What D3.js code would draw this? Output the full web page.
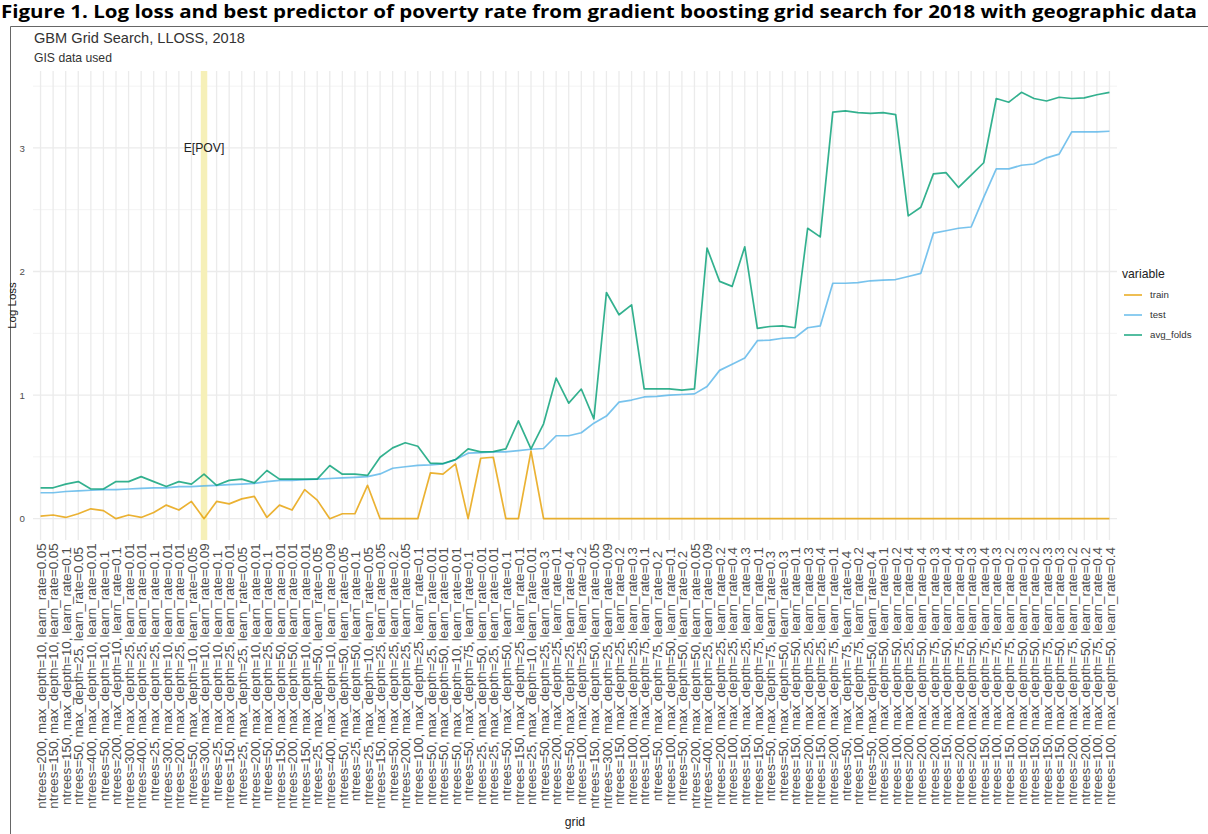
<!DOCTYPE html>
<html>
<head>
<meta charset="utf-8">
<script src="https://cdn.jsdelivr.net/npm/d3@7"></script>
<style>
	body { margin: 0; background: #fff; }
	svg { display: block; }
</style>
</head>
<body>
<div id="chart-area"></div>
<script>
// grid search runs, in plotted order
let grid = [
	"ntrees=200, max_depth=10, learn_rate=0.05", "ntrees=150, max_depth=10, learn_rate=0.05",
	"ntrees=150, max_depth=10, learn_rate=0.1", "ntrees=50, max_depth=25, learn_rate=0.05",
	"ntrees=400, max_depth=10, learn_rate=0.01", "ntrees=50, max_depth=10, learn_rate=0.1",
	"ntrees=200, max_depth=10, learn_rate=0.1", "ntrees=300, max_depth=25, learn_rate=0.01",
	"ntrees=400, max_depth=25, learn_rate=0.01", "ntrees=25, max_depth=25, learn_rate=0.1",
	"ntrees=300, max_depth=10, learn_rate=0.01", "ntrees=200, max_depth=25, learn_rate=0.01",
	"ntrees=50, max_depth=10, learn_rate=0.05", "ntrees=300, max_depth=10, learn_rate=0.09",
	"ntrees=25, max_depth=10, learn_rate=0.1", "ntrees=150, max_depth=25, learn_rate=0.01",
	"ntrees=25, max_depth=25, learn_rate=0.05", "ntrees=200, max_depth=10, learn_rate=0.01",
	"ntrees=50, max_depth=25, learn_rate=0.1", "ntrees=150, max_depth=50, learn_rate=0.01",
	"ntrees=200, max_depth=50, learn_rate=0.01", "ntrees=150, max_depth=10, learn_rate=0.01",
	"ntrees=25, max_depth=50, learn_rate=0.05", "ntrees=400, max_depth=10, learn_rate=0.09",
	"ntrees=50, max_depth=50, learn_rate=0.05", "ntrees=25, max_depth=50, learn_rate=0.1",
	"ntrees=25, max_depth=10, learn_rate=0.05", "ntrees=150, max_depth=25, learn_rate=0.05",
	"ntrees=50, max_depth=25, learn_rate=0.2", "ntrees=200, max_depth=25, learn_rate=0.05",
	"ntrees=100, max_depth=25, learn_rate=0.1", "ntrees=50, max_depth=25, learn_rate=0.01",
	"ntrees=50, max_depth=50, learn_rate=0.01", "ntrees=50, max_depth=10, learn_rate=0.01",
	"ntrees=50, max_depth=75, learn_rate=0.1", "ntrees=25, max_depth=50, learn_rate=0.01",
	"ntrees=25, max_depth=25, learn_rate=0.01", "ntrees=50, max_depth=50, learn_rate=0.1",
	"ntrees=150, max_depth=25, learn_rate=0.1", "ntrees=25, max_depth=10, learn_rate=0.01",
	"ntrees=50, max_depth=25, learn_rate=0.3", "ntrees=200, max_depth=25, learn_rate=0.1",
	"ntrees=50, max_depth=25, learn_rate=0.4", "ntrees=100, max_depth=25, learn_rate=0.2",
	"ntrees=150, max_depth=50, learn_rate=0.05", "ntrees=300, max_depth=25, learn_rate=0.09",
	"ntrees=150, max_depth=25, learn_rate=0.2", "ntrees=100, max_depth=25, learn_rate=0.3",
	"ntrees=100, max_depth=75, learn_rate=0.1", "ntrees=50, max_depth=75, learn_rate=0.2",
	"ntrees=100, max_depth=50, learn_rate=0.1", "ntrees=50, max_depth=50, learn_rate=0.2",
	"ntrees=200, max_depth=50, learn_rate=0.05", "ntrees=400, max_depth=25, learn_rate=0.09",
	"ntrees=200, max_depth=25, learn_rate=0.2", "ntrees=100, max_depth=25, learn_rate=0.4",
	"ntrees=150, max_depth=25, learn_rate=0.3", "ntrees=150, max_depth=75, learn_rate=0.1",
	"ntrees=50, max_depth=75, learn_rate=0.3", "ntrees=50, max_depth=50, learn_rate=0.3",
	"ntrees=150, max_depth=50, learn_rate=0.1", "ntrees=200, max_depth=25, learn_rate=0.3",
	"ntrees=150, max_depth=25, learn_rate=0.4", "ntrees=200, max_depth=75, learn_rate=0.1",
	"ntrees=50, max_depth=75, learn_rate=0.4", "ntrees=100, max_depth=75, learn_rate=0.2",
	"ntrees=50, max_depth=50, learn_rate=0.4", "ntrees=200, max_depth=50, learn_rate=0.1",
	"ntrees=100, max_depth=50, learn_rate=0.2", "ntrees=200, max_depth=25, learn_rate=0.4",
	"ntrees=200, max_depth=50, learn_rate=0.4", "ntrees=200, max_depth=75, learn_rate=0.3",
	"ntrees=150, max_depth=50, learn_rate=0.4", "ntrees=200, max_depth=75, learn_rate=0.4",
	"ntrees=200, max_depth=50, learn_rate=0.3", "ntrees=150, max_depth=75, learn_rate=0.4",
	"ntrees=100, max_depth=75, learn_rate=0.3", "ntrees=150, max_depth=75, learn_rate=0.2",
	"ntrees=100, max_depth=50, learn_rate=0.3", "ntrees=150, max_depth=50, learn_rate=0.2",
	"ntrees=150, max_depth=75, learn_rate=0.3", "ntrees=150, max_depth=50, learn_rate=0.3",
	"ntrees=200, max_depth=75, learn_rate=0.2", "ntrees=200, max_depth=50, learn_rate=0.2",
	"ntrees=100, max_depth=75, learn_rate=0.4", "ntrees=100, max_depth=50, learn_rate=0.4"
];

let train = [
	0.02, 0.03, 0.01, 0.04, 0.08, 0.065, 0.0, 0.03, 0.01, 0.05,
	0.11, 0.07, 0.14, 0.0, 0.14, 0.12, 0.16, 0.18, 0.01, 0.11,
	0.07, 0.235, 0.15, 0.0, 0.04, 0.04, 0.27, 0, 0, 0,
	0, 0.37, 0.36, 0.443, 0, 0.489, 0.497, 0, 0, 0.546,
	0, 0, 0, 0, 0, 0, 0, 0, 0, 0,
	0, 0, 0, 0, 0, 0, 0, 0, 0, 0,
	0, 0, 0, 0, 0, 0, 0, 0, 0, 0,
	0, 0, 0, 0, 0, 0, 0, 0, 0, 0,
	0, 0, 0, 0, 0, 0
];

let test = [
	0.21, 0.21, 0.22, 0.225, 0.23, 0.235, 0.235, 0.24, 0.245, 0.25,
	0.25, 0.26, 0.26, 0.265, 0.27, 0.275, 0.28, 0.285, 0.30, 0.31,
	0.31, 0.315, 0.32, 0.325, 0.33, 0.335, 0.34, 0.362, 0.408, 0.42,
	0.432, 0.435, 0.443, 0.478, 0.53, 0.535, 0.541, 0.541, 0.551, 0.562,
	0.568, 0.671, 0.671, 0.695, 0.773, 0.83, 0.943, 0.96, 0.985, 0.99,
	1.0, 1.005, 1.01, 1.07, 1.20, 1.25, 1.30, 1.44, 1.445, 1.46,
	1.465, 1.545, 1.56, 1.905, 1.905, 1.91, 1.925, 1.93, 1.935, 1.96,
	1.985, 2.31, 2.33, 2.35, 2.36, 2.60, 2.83, 2.83, 2.86, 2.87,
	2.92, 2.95, 3.13, 3.13, 3.13, 3.135
];

let avgFolds = [
	0.25, 0.25, 0.28, 0.30, 0.24, 0.24, 0.30, 0.30, 0.34, 0.30,
	0.26, 0.30, 0.28, 0.36, 0.27, 0.31, 0.32, 0.29, 0.39, 0.32,
	0.32, 0.32, 0.32, 0.43, 0.36, 0.36, 0.35, 0.497, 0.573, 0.614,
	0.586, 0.449, 0.446, 0.478, 0.565, 0.541, 0.543, 0.565, 0.792, 0.565,
	0.768, 1.138, 0.935, 1.049, 0.808, 1.83, 1.65, 1.73, 1.05, 1.05,
	1.05, 1.04, 1.05, 2.19, 1.92, 1.88, 2.20, 1.54, 1.555, 1.56,
	1.545, 2.35, 2.28, 3.29, 3.30, 3.285, 3.28, 3.285, 3.27, 2.45,
	2.52, 2.79, 2.80, 2.68, 2.78, 2.88, 3.40, 3.37, 3.45, 3.40,
	3.38, 3.41, 3.40, 3.405, 3.43, 3.45
];

let seriesNames = ["train", "test", "avg_folds"];
let seriesColors = ["#E69F00", "#56B4E9", "#009E73"];
let yTicks = [0, 1, 2, 3];
let bestRun = "ntrees=300, max_depth=10, learn_rate=0.09";

let width = 1208,
	height = 834;

let panel = {left: 33, right: 1117, top: 71, bottom: 540};

let series = [train, test, avgFolds].map((vals, k) => ({
	name: seriesNames[k],
	color: seriesColors[k],
	values: vals.map((v, i) => ({grid: grid[i], value: v}))
}));

let svg = d3.select("#chart-area")
	.append("svg")
	.attr("width", width)
	.attr("height", height)
	.style("font-family", "'Liberation Sans', Arial, sans-serif");

// figure caption + frame
svg.append("text")
	.attr("x", 1)
	.attr("y", 18)
	.attr("textLength", 1196)
	.attr("lengthAdjust", "spacingAndGlyphs")
	.style("font-family", "'Open Sans', sans-serif")
	.style("font-weight", "700")
	.style("font-size", "17px")
	.attr("fill", "#000")
	.text("Figure 1. Log loss and best predictor of poverty rate from gradient boosting grid search for 2018 with geographic data");

svg.append("path")
	.attr("d", "M10.5,834 V26.5 H1208")
	.attr("fill", "none")
	.attr("stroke", "#666")
	.attr("stroke-width", 1);

// scales, ggplot-ish expansion
let xScale = d3.scalePoint()
	.domain(grid)
	.range([panel.left, panel.right])
	.padding(0.6);

let yMax = d3.max(series, s => d3.max(s.values, d => d.value));
let yPad = yMax * 0.05;
let yScale = d3.scaleLinear()
	.domain([-yPad, yMax + yPad])
	.range([panel.bottom, panel.top]);

// grid lines
let minor = d3.range(0.5, yMax + yPad, 1);
svg.append("g")
	.selectAll("line")
	.data(minor)
	.enter()
	.append("line")
	.attr("x1", panel.left).attr("x2", panel.right)
	.attr("y1", d => yScale(d)).attr("y2", d => yScale(d))
	.attr("stroke", "#f3f3f3")
	.attr("stroke-width", 1);

svg.append("g")
	.selectAll("line")
	.data(yTicks)
	.enter()
	.append("line")
	.attr("x1", panel.left).attr("x2", panel.right)
	.attr("y1", d => yScale(d)).attr("y2", d => yScale(d))
	.attr("stroke", "#ebebeb")
	.attr("stroke-width", 1.3);

svg.append("g")
	.selectAll("line")
	.data(grid)
	.enter()
	.append("line")
	.attr("x1", d => xScale(d)).attr("x2", d => xScale(d))
	.attr("y1", panel.top).attr("y2", panel.bottom)
	.attr("stroke", "#ebebeb")
	.attr("stroke-width", 1.3);

// best predictor marker
svg.append("line")
	.attr("x1", xScale(bestRun)).attr("x2", xScale(bestRun))
	.attr("y1", panel.top).attr("y2", panel.bottom)
	.attr("stroke", "#f6f0b8")
	.attr("stroke-width", 6.5);

svg.append("text")
	.attr("x", xScale(bestRun))
	.attr("y", yScale(3))
	.attr("dy", "0.36em")
	.attr("text-anchor", "middle")
	.style("font-size", "12.2px")
	.attr("fill", "#222")
	.text("E[POV]");

// lines
let line = d3.line()
	.x(d => xScale(d.grid))
	.y(d => yScale(d.value));

svg.append("g")
	.selectAll("path")
	.data(series)
	.enter()
	.append("path")
	.attr("d", d => line(d.values))
	.attr("fill", "none")
	.attr("stroke", d => d.color)
	.attr("stroke-opacity", 0.8)
	.attr("stroke-width", 1.7)
	.attr("stroke-linejoin", "round");

// axes
let yAxis = d3.axisLeft(yScale)
	.tickValues(yTicks)
	.tickFormat(d3.format("d"))
	.tickSize(0)
	.tickPadding(6);

let y = svg.append("g")
	.attr("transform", "translate(" + (panel.left - 2) + ",0)")
	.call(yAxis);
y.select(".domain").remove();
y.selectAll("text")
	.style("font-size", "9.7px")
	.style("font-family", "'Liberation Sans', Arial, sans-serif")
	.attr("fill", "#4d4d4d");

let xAxis = d3.axisBottom(xScale)
	.tickSize(0);

let x = svg.append("g")
	.attr("transform", "translate(0," + panel.bottom + ")")
	.call(xAxis);
x.select(".domain").remove();
x.selectAll("text")
	.attr("transform", "translate(0,136) rotate(-90)")
	.attr("x", 0)
	.attr("y", 0)
	.attr("dy", "0.35em")
	.attr("text-anchor", "middle")
	.style("font-size", "13.4px")
	.style("font-family", "'Liberation Sans', Arial, sans-serif")
	.attr("fill", "#4d4d4d");

// axis titles
svg.append("text")
	.attr("x", (panel.left + panel.right) / 2)
	.attr("y", 826)
	.attr("text-anchor", "middle")
	.style("font-size", "12.2px")
	.attr("fill", "#222")
	.text("grid");

svg.append("text")
	.attr("transform", "translate(16," + ((panel.top + panel.bottom) / 2) + ") rotate(-90)")
	.attr("text-anchor", "middle")
	.style("font-size", "11.5px")
	.attr("fill", "#222")
	.text("Log Loss");

// chart titles
svg.append("text")
	.attr("x", 34)
	.attr("y", 43)
	.style("font-size", "14.6px")
	.attr("fill", "#333")
	.text("GBM Grid Search, LLOSS, 2018");

svg.append("text")
	.attr("x", 34)
	.attr("y", 62)
	.style("font-size", "12.2px")
	.attr("fill", "#333")
	.text("GIS data used");

// legend
let legend = svg.append("g")
	.attr("transform", "translate(1122,0)");

legend.append("text")
	.attr("x", 0)
	.attr("y", 278)
	.style("font-size", "12.2px")
	.attr("fill", "#222")
	.text("variable");

let keys = legend.selectAll(".key")
	.data(series)
	.enter()
	.append("g")
	.attr("class", "key")
	.attr("transform", (d, i) => "translate(0," + (295 + i * 20) + ")");

keys.append("line")
	.attr("x1", 2).attr("x2", 20)
	.attr("stroke", d => d.color)
	.attr("stroke-opacity", 0.8)
	.attr("stroke-width", 1.7);

keys.append("text")
	.attr("x", 28)
	.attr("dy", "0.35em")
	.style("font-size", "9.7px")
	.attr("fill", "#333")
	.text(d => d.name);
</script>
</body>
</html>
